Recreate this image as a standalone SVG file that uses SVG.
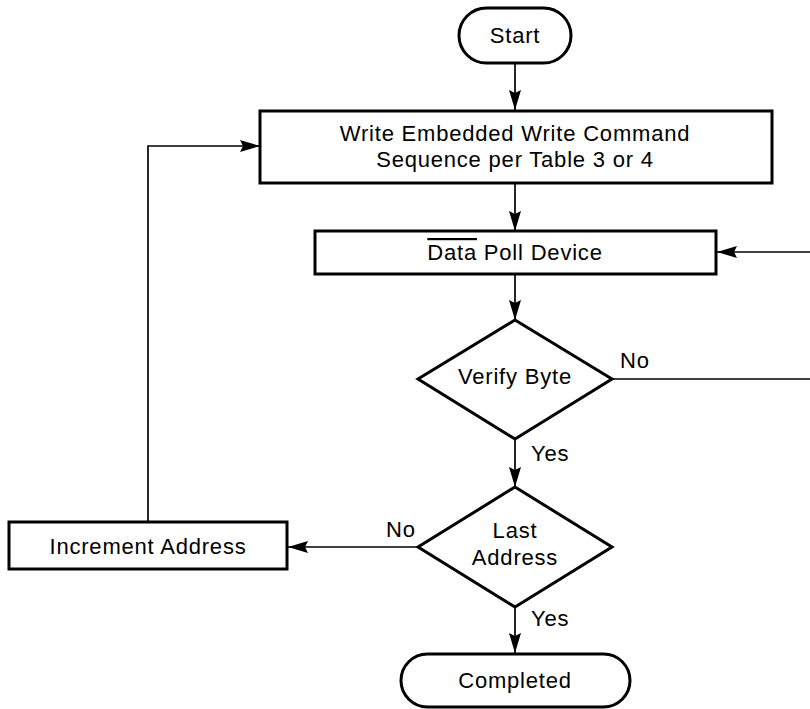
<svg xmlns="http://www.w3.org/2000/svg" width="810" height="709" viewBox="0 0 810 709">
<style>
.n{fill:#fff;stroke:#000;stroke-width:3}
.c{fill:none;stroke:#000;stroke-width:1.7}
text{font-family:"Liberation Sans",Arial,sans-serif;font-size:22px;letter-spacing:0.8px;fill:#000;text-anchor:middle}
.l{text-anchor:start}
</style>
<defs>
<marker id="a" viewBox="0 0 20 12" refX="20" refY="6" markerWidth="20" markerHeight="12" markerUnits="userSpaceOnUse" orient="auto">
<path d="M0,0 L20,6 L0,12 L3,6 Z" fill="#000"/>
</marker>
</defs>
<rect width="810" height="709" fill="#fff"/>
<g id="connectors">
<line class="c" x1="515" y1="63" x2="515" y2="110" marker-end="url(#a)"/>
<line class="c" x1="515" y1="184" x2="515" y2="231" marker-end="url(#a)"/>
<line class="c" x1="515" y1="274" x2="515" y2="320" marker-end="url(#a)"/>
<line class="c" x1="515" y1="439" x2="515" y2="487" marker-end="url(#a)"/>
<line class="c" x1="515" y1="607" x2="515" y2="653" marker-end="url(#a)"/>
<polyline class="c" points="612,379 810,379"/>
<line class="c" x1="810" y1="252" x2="717" y2="252" marker-end="url(#a)"/>
<line class="c" x1="418" y1="547" x2="288" y2="547" marker-end="url(#a)"/>
<polyline class="c" points="148,522 148,146 260,146" marker-end="url(#a)"/>
<text class="l" x="620" y="368">No</text>
<text class="l" x="531" y="461">Yes</text>
<text class="l" x="386" y="537">No</text>
<text class="l" x="531" y="626">Yes</text>
</g>
<g id="start">
<rect class="n" x="459" y="8" width="112" height="55" rx="27.5"/>
<text x="515" y="43">Start</text>
</g>
<g id="write">
<rect class="n" x="260" y="111" width="512" height="72"/>
<text x="515" y="141">Write Embedded Write Command</text>
<text x="515" y="167">Sequence per Table 3 or 4</text>
</g>
<g id="poll">
<rect class="n" x="315" y="231" width="401" height="43"/>
<text x="515" y="260"><tspan text-decoration="overline">Data</tspan> Poll Device</text>
</g>
<g id="verify">
<polygon class="n" points="515,320 612,379 515,439 418,379"/>
<text x="515" y="384">Verify Byte</text>
</g>
<g id="last">
<polygon class="n" points="515,487 612,547 515,607 418,547"/>
<text x="515" y="538">Last</text>
<text x="515" y="565">Address</text>
</g>
<g id="increment">
<rect class="n" x="9" y="522" width="278" height="47"/>
<text x="148" y="554">Increment Address</text>
</g>
<g id="completed">
<rect class="n" x="401" y="654" width="229" height="53" rx="26.5"/>
<text x="515" y="688">Completed</text>
</g>
</svg>
